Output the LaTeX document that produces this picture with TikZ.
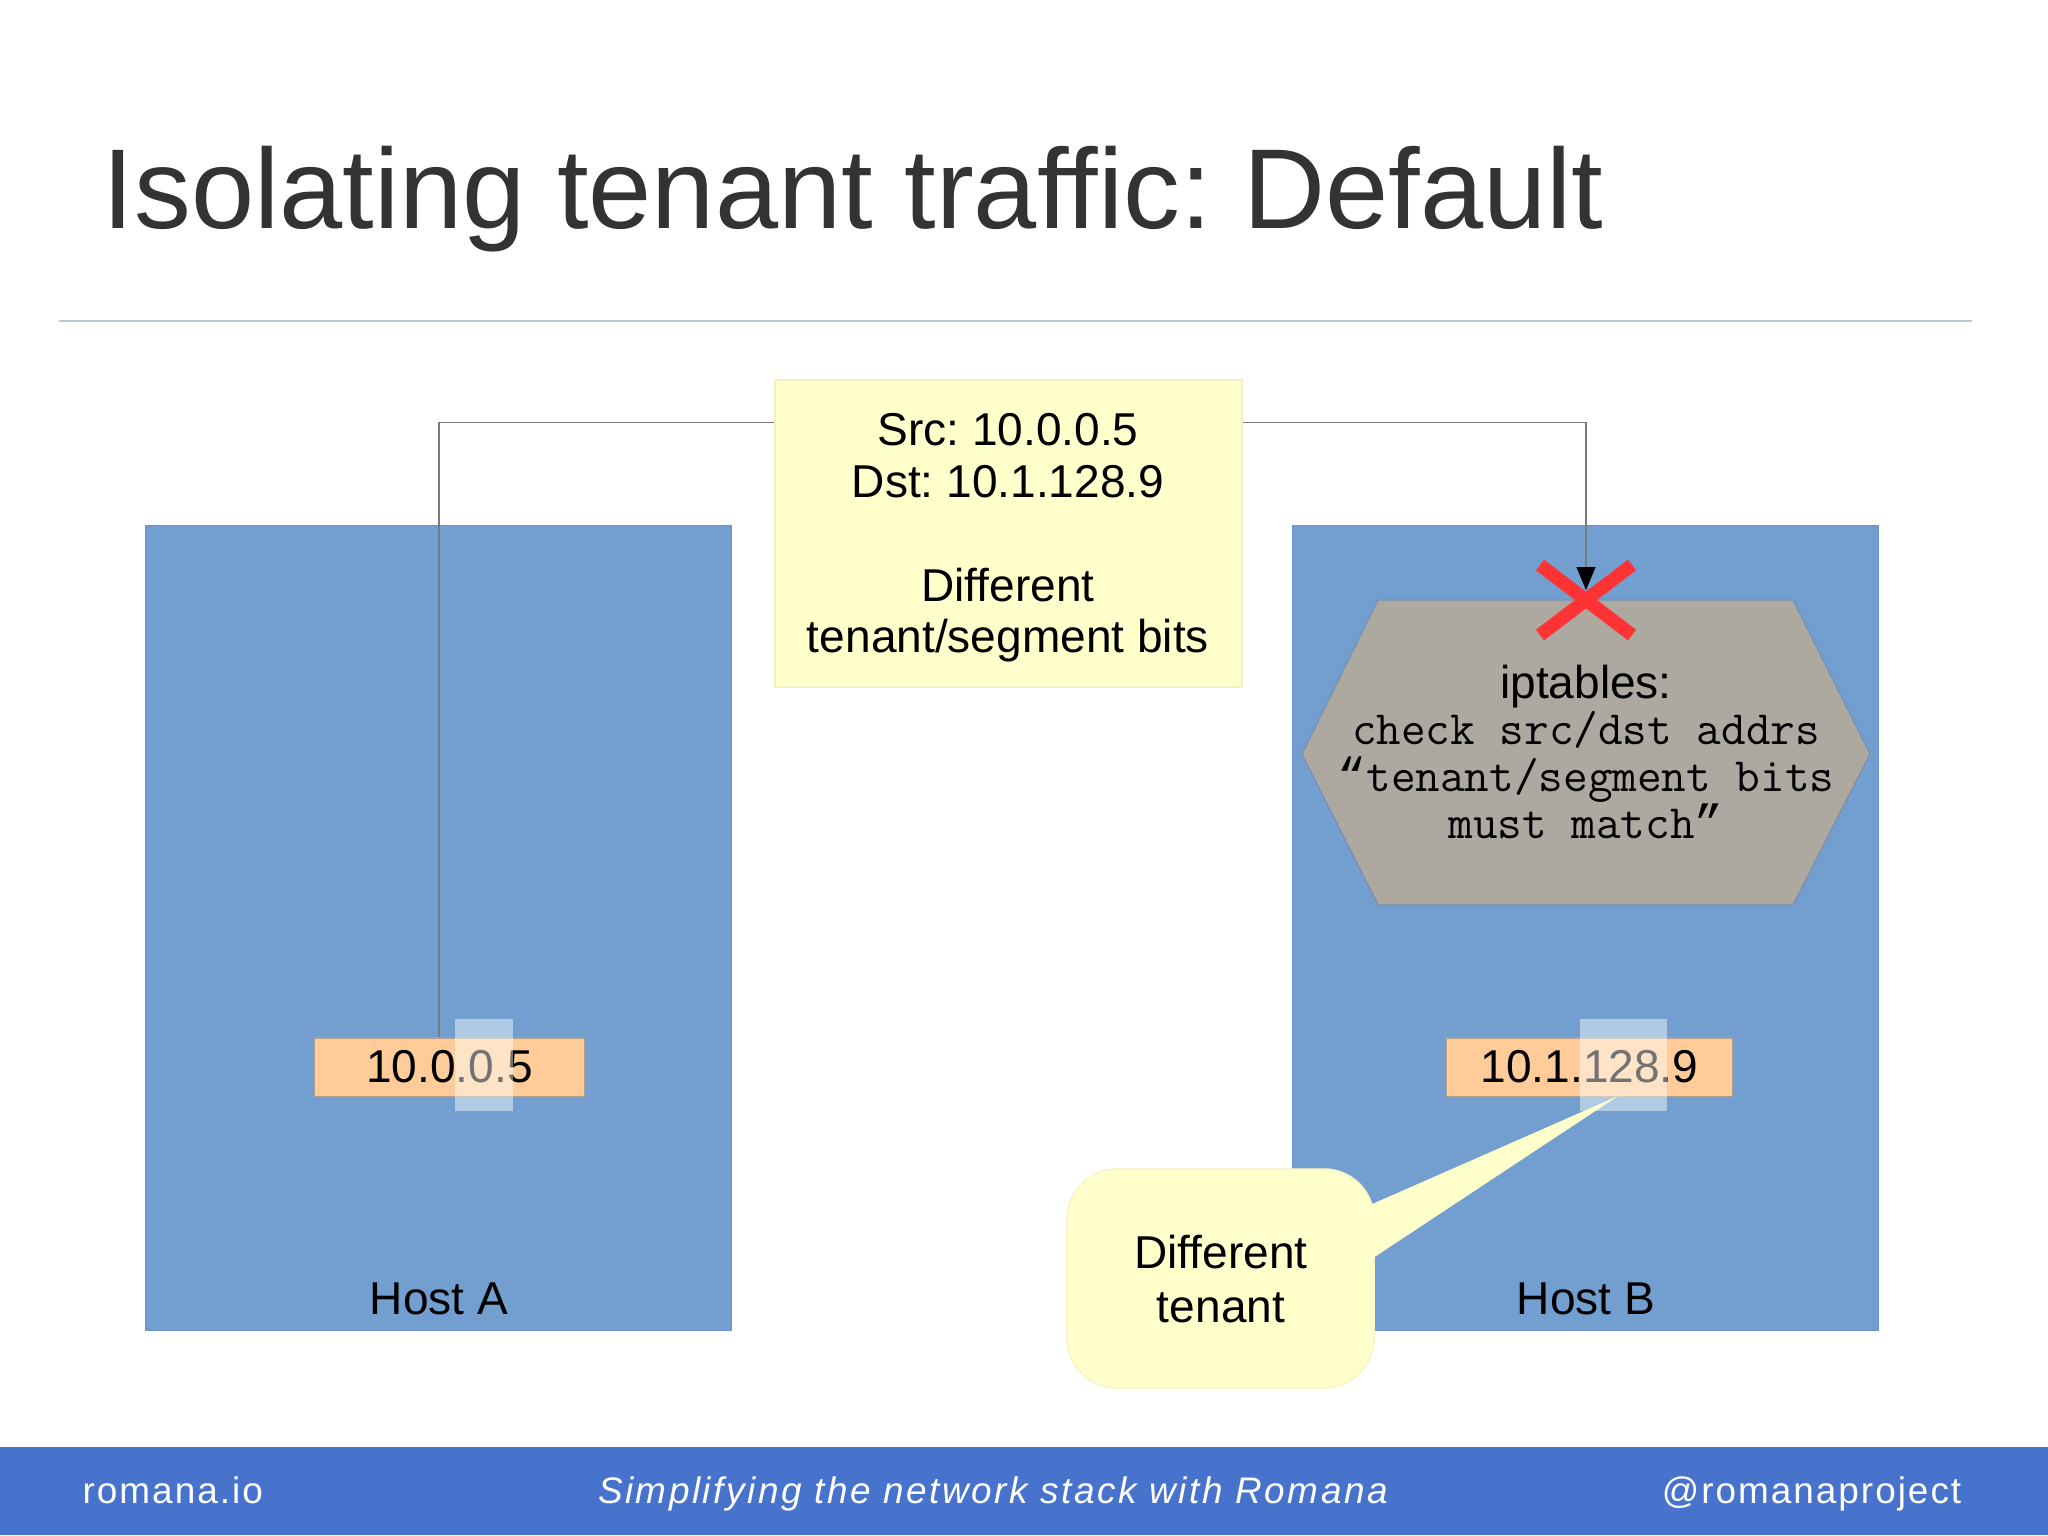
\documentclass[tikz,border=0pt]{standalone}
\usepackage{fontspec}
\setmainfont{Liberation Sans}
\newfontfamily\quotefont{Liberation Mono}
\usetikzlibrary{arrows.meta}
\definecolor{hostblue}{HTML}{729FCF}
\definecolor{hostedge}{HTML}{6A94C6}
\definecolor{noteyellow}{HTML}{FFFFCC}
\definecolor{noteedge}{HTML}{F3EFC4}
\definecolor{iporange}{HTML}{FFCC99}
\definecolor{ipedge}{HTML}{B0A08C}
\definecolor{hexgray}{HTML}{ADA9A1}
\definecolor{hexedge}{HTML}{7A8FAE}
\definecolor{xred}{HTML}{FF3333}
\definecolor{titlegray}{HTML}{333333}
\definecolor{sepline}{HTML}{BCCBDC}
\definecolor{footblue}{HTML}{4773CC}
\definecolor{connline}{HTML}{7A7A7A}
\newcommand{\bodyfont}{\fontsize{13.1}{15}\selectfont}
\newcommand{\monofont}{\ttfamily\fontsize{13.6}{15}\selectfont\addfontfeatures{FakeBold=0.8}}
\newcommand{\footfont}{\fontsize{10.5}{12}\selectfont\addfontfeatures{LetterSpace=5.4}}
\newcommand{\footitfont}{\fontsize{10.5}{12}\selectfont\itshape\addfontfeatures{LetterSpace=6.8}}
\newcommand{\myopenq}{{\quotefont “}}
\newcommand{\mycloseq}{{\quotefont ”}}
\tikzset{
  hostbox/.style={fill=hostblue, draw=hostedge, line width=0.3pt, inner sep=0pt},
  ipbox/.style={fill=iporange, draw=ipedge, line width=0.3pt, inner sep=0pt,
    minimum height=0.58cm, font=\bodyfont},
  veil/.style={fill=white, fill opacity=0.45, draw=none, inner sep=0pt, minimum height=0.92cm},
  notebox/.style={fill=noteyellow, draw=noteedge, line width=0.4pt, inner sep=0pt},
  txt/.style={anchor=base, inner sep=0pt, font=\bodyfont},
  monotxt/.style={anchor=base, inner sep=0pt, font=\monofont},
  conn/.style={draw=connline, line width=0.35pt},
  hexshape/.style={fill=hexgray, draw=hexedge, line width=0.35pt},
  redx/.style={draw=xred, line width=3.8pt},
  foottxt/.style={anchor=base, inner sep=0pt, text=white, font=\footfont}
}
\begin{document}
\frenchspacing
\begin{tikzpicture}[x=0.01cm, y=-0.01cm]
\useasboundingbox (0,0) rectangle (2048,1535);
\fill[white] (0,0) rectangle (2048,1535);

% title and rule
\node[anchor=base west, inner sep=0pt, text=titlegray,
      font=\fontsize{32.3}{36}\selectfont] (title) at (102,228) {Isolating tenant traffic: Default};
\draw[sepline, line width=0.6pt] (59,321) -- (1972,321);

% hosts
\node[hostbox, minimum width=5.85cm, minimum height=8.04cm] (hostA) at (438.5,928) {};
\node[hostbox, minimum width=5.85cm, minimum height=8.04cm] (hostB) at (1585.5,928) {};
\node[txt] (labA) at (439,1314) {Host A};
\node[txt] (labB) at (1586,1314) {Host B};

% packet note
\node[notebox, minimum width=4.67cm, minimum height=3.07cm] (pkt) at (1008.5,533.5) {};
\node[txt] (pkt1) at (1008,445) {Src: 10.0.0.5};
\node[txt] (pkt2) at (1008,497) {Dst: 10.1.128.9};
\node[txt] (pkt3) at (1008,601) {Different};
\node[txt] (pkt4) at (1008,652) {tenant/segment bits};

% iptables hexagon
\draw[hexshape] (1378,600) -- (1793,600) -- (1870,754) -- (1793,905) -- (1378,905) -- (1302,754) -- cycle;
\node[txt] (ipt0) at (1586,698) {iptables:};
\node[monotxt] (ipt1) at (1586,744) {check src/dst addrs};
\node[monotxt] (ipt2) at (1586,791) {\myopenq tenant/segment bits};
\node[monotxt] (ipt3) at (1586,838) {must match\mycloseq};

% connectors
\coordinate (aend) at (439,1038);
\coordinate (bend) at (1586,590);
\draw[conn] ([yshift=-0.43cm]pkt.north west) -| (aend);

% red cross
\draw[redx] (1540,565) -- (1632,635);
\draw[redx] (1540,635) -- (1632,565);
\draw[conn, -{Triangle[length=0.23cm, width=0.19cm, color=black]}] ([yshift=-0.43cm]pkt.north east) -| (bend);

% addresses
\node[ipbox, minimum width=2.69cm] (ipA) at (449.5,1067) {10.0.0.5};
\node[veil, minimum width=0.58cm] (veilA) at (484,1065) {};
\node[ipbox, minimum width=2.85cm] (ipB) at (1589.5,1067) {10.1.128.9};
\node[veil, minimum width=0.87cm] (veilB) at (1623.5,1065) {};

% callout
\coordinate (ctip) at (1618,1096);
\node[notebox, draw=noteedge!70!noteyellow, rounded corners=0.5cm, minimum width=3.07cm, minimum height=2.19cm] (callout) at (1220.5,1278.5) {};
\fill[noteyellow] (1370,1205) -- (ctip) -- (1370,1260) -- cycle;
\node[txt] (cl1) at (1221,1268) {Different};
\node[txt] (cl2) at (1221,1322) {tenant};

% footer
\fill[footblue] (0,1447) rectangle (2048,1535);
\node[foottxt, anchor=base west] (f1) at (82,1503) {romana.io};
\node[foottxt, font=\footitfont] (f2) at (993,1503) {Simplifying the network stack with Romana};
\node[foottxt, anchor=base east] (f3) at (1962,1503) {@romanaproject};
\end{tikzpicture}
\end{document}
